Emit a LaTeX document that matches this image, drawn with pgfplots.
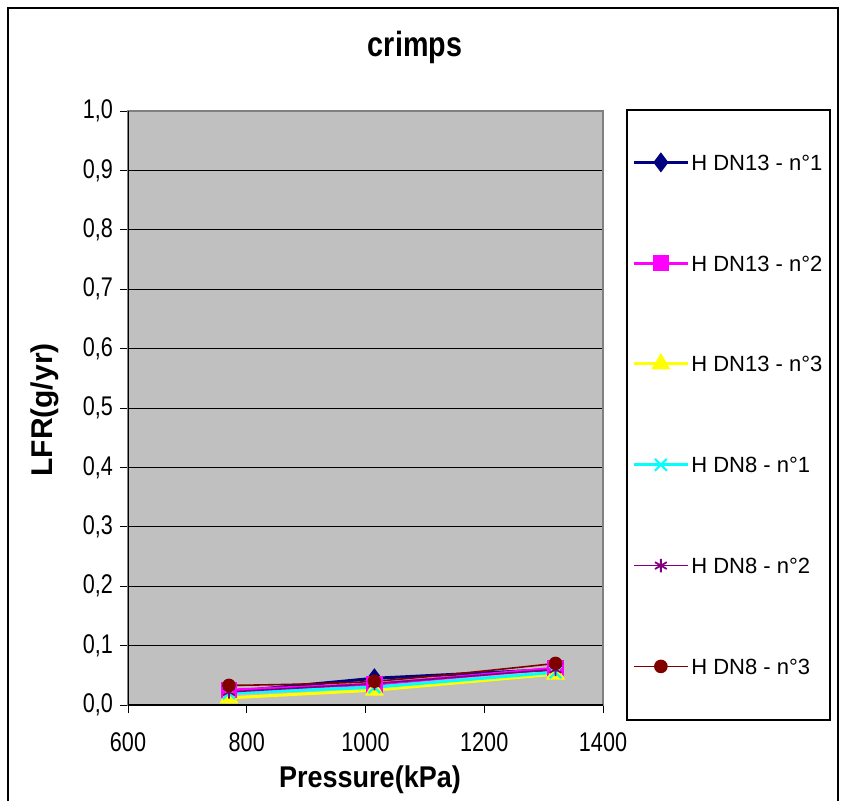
\documentclass[border=0pt]{standalone}
\usepackage{fontspec}
\setmainfont{Liberation Sans}
\newfontfamily\tickfont[FakeStretch=0.8]{Liberation Sans}
\newfontfamily\labfont[FakeStretch=0.9]{Liberation Sans}
\newfontfamily\titfont[FakeStretch=0.82]{Liberation Sans}
\usepackage{pgfplots}
\pgfplotsset{compat=1.18}
\definecolor{plotbg}{HTML}{C0C0C0}
\definecolor{cnavy}{HTML}{000080}
\definecolor{cmag}{HTML}{FF00FF}
\definecolor{cyel}{HTML}{FFFF00}
\definecolor{ccyan}{HTML}{00FFFF}
\definecolor{cpurp}{HTML}{800080}
\definecolor{cmaroon}{HTML}{800000}
\definecolor{bordergray}{HTML}{808080}
\begin{document}
\begin{tikzpicture}
\useasboundingbox (0pt,0pt) rectangle (420.5pt,400pt);
\draw[black, line width=0.8pt] (4pt,-5pt) -- (4pt,396pt) -- (419pt,396pt) -- (419pt,-5pt);
\node[font=\titfont\bfseries\fontsize{17.5}{20}\selectfont] at (207.5pt,376.5pt) {crimps};
\node[font=\labfont\bfseries\fontsize{15}{17}\selectfont] at (185pt,10pt) {Pressure(kPa)};
\node[font=\bfseries\fontsize{15}{17}\selectfont, rotate=90] at (22.5pt,195pt) {LFR(g/yr)};
\draw[black, line width=0.6pt] (313.5pt,40pt) rectangle (415pt,345pt);
\begin{axis}[
  at={(64pt,47.5pt)}, anchor=south west,
  scale only axis, width=237.5pt, height=297pt,
  xmin=600, xmax=1400, ymin=0, ymax=1,
  xtick={600,800,1000,1200,1400},
  ytick={0,0.1,0.2,0.3,0.4,0.5,0.6,0.7,0.8,0.9,1.0},
  /pgf/number format/assume math mode=true,
  ticklabel style={font=\tickfont\fontsize{13.5}{15}\selectfont},
  xticklabel style={/pgf/number format/set thousands separator={}, yshift=-6.5pt},
  yticklabel style={/pgf/number format/.cd, use comma, fixed, fixed zerofill, precision=1},
  tick pos=left, tick align=outside,
  major tick length=4pt,
  tick style={black, line width=0.5pt},
  axis background/.style={fill=plotbg},
  axis line style={draw=bordergray, line width=0.6pt},
  ymajorgrids, grid style={black, line width=0.5pt},
  legend style={at={(1.061,0.931)}, anchor=north west, draw=none, fill=none,
    inner sep=0pt, row sep=40.4pt,
    nodes={inner sep=1pt, anchor=west, font=\fontsize{11}{13}\selectfont, text height=8pt, text depth=0pt}},
  legend cell align=left,
  legend image code/.code={\draw[mark repeat=2,mark phase=2] plot coordinates {(0pt,0pt) (13.5pt,0pt) (27pt,0pt)};},
]
\draw[black, line width=0.6pt] (rel axis cs:0,0) -- (rel axis cs:0,1);
\draw[black, line width=0.6pt] (rel axis cs:0,0) -- (rel axis cs:1,0);
\addplot[cnavy, line width=1.5pt, mark=diamond*, mark size=3.8pt, mark options={fill=cnavy, solid}]
  coordinates {(770,0.022) (1015,0.045) (1320,0.060)};
\addlegendentry{H DN13 - n°1}
\addplot[cmag, line width=1.5pt, mark=square*, mark size=3.4pt, mark options={fill=cmag, solid}]
  coordinates {(770,0.025) (1015,0.035) (1320,0.062)};
\addlegendentry{H DN13 - n°2}
\addplot[cyel, line width=1.5pt, mark=triangle*, mark size=4pt, mark options={fill=cyel, solid}]
  coordinates {(770,0.012) (1015,0.025) (1320,0.052)};
\addlegendentry{H DN13 - n°3}
\addplot[ccyan, line width=1.5pt, mark=x, mark size=4.2pt, mark options={line width=1.1pt, solid}]
  coordinates {(770,0.020) (1015,0.030) (1320,0.055)};
\addlegendentry{H DN8 - n°1}
\addplot[cpurp, line width=0.8pt, mark=asterisk, mark size=3.4pt, mark options={line width=0.9pt, solid}]
  coordinates {(770,0.022) (1015,0.036) (1320,0.060)};
\addlegendentry{H DN8 - n°2}
\addplot[cmaroon, line width=0.8pt, smooth, mark=*, mark size=3pt, mark options={fill=cmaroon, solid}]
  coordinates {(770,0.033) (1015,0.040) (1320,0.070)};
\addlegendentry{H DN8 - n°3}
\end{axis}
\end{tikzpicture}
\end{document}
